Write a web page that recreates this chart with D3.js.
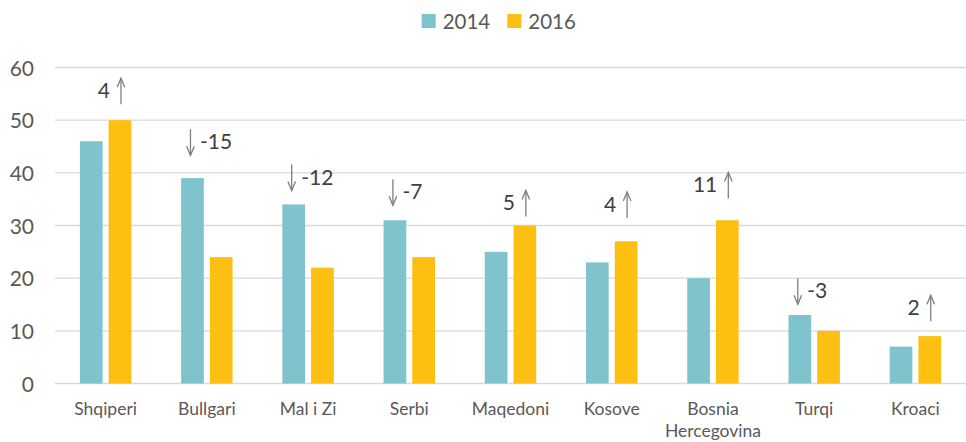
<!DOCTYPE html>
<html><head><meta charset="utf-8">
<script src="https://cdn.jsdelivr.net/npm/d3@7"></script>
<style>body{margin:0;background:#fff}svg{display:block;font-family:Lato,"Open Sans",sans-serif}</style>
</head><body><svg id="c" width="966" height="442"></svg>
<script>
const categories = ["Shqiperi","Bullgari","Mal i Zi","Serbi","Maqedoni","Kosove","Bosnia\nHercegovina","Turqi","Kroaci"];
const seriesNames = ["2014","2016"];
const values2014 = [46,39,34,31,25,23,20,13,7];
const values2016 = [50,24,22,24,30,27,31,10,9];
const changeLabels = [4,-15,-12,-7,5,4,11,-3,2];
const annotationLevel = [55.5,45.8,39.1,36.3,34.2,33.9,37.6,17.5,14.3];
const yTicks = [0,10,20,30,40,50,60];
const colors = ["#7fc4cd","#fcbf12"];

(function(){
const svg = d3.select("#c");
const pLeft = 55, pRight = 966, pTop = 67.5, pBottom = 383.5;
const y = d3.scaleLinear().domain([0,60]).range([pBottom, pTop]);
const x = d3.scaleBand().domain(categories).range([pLeft,pRight]).paddingInner(0.492).paddingOuter(0.246);
const x1 = d3.scaleBand().domain(seriesNames).range([0,x.bandwidth()]).paddingInner(0.21);

// gridlines
svg.append("g").selectAll("line").data(yTicks).join("line")
  .attr("x1",pLeft).attr("x2",pRight).attr("y1",d=>y(d)).attr("y2",d=>y(d))
  .attr("stroke","#d9d9d9").attr("stroke-width",1.4);

// y axis labels
const yAxis = d3.axisLeft(y).tickValues(yTicks).tickSize(0).tickPadding(0);
const ya = svg.append("g").attr("transform","translate(34,0)").call(yAxis);
ya.select(".domain").remove();
ya.selectAll("text").attr("font-size",21).attr("fill","#595959").attr("font-family","Lato").attr("dy","0.36em");

// bars
const data = categories.map((c,i)=>({c, v:[values2014[i],values2016[i]]}));
const g = svg.append("g").selectAll("g").data(data).join("g")
  .attr("transform",d=>`translate(${x(d.c)},0)`);
g.selectAll("rect").data(d=>d.v.map((v,j)=>({k:seriesNames[j],v,j}))).join("rect")
  .attr("x",d=>x1(d.k)).attr("width",x1.bandwidth())
  .attr("y",d=>y(d.v)).attr("height",d=>y(0)-y(d.v))
  .attr("fill",d=>colors[d.j]);

// category labels
const xl = svg.append("g");
categories.forEach(c=>{
  const lines = c.split("\n");
  const cx = x(c)+x.bandwidth()/2;
  const t = xl.append("text").attr("text-anchor","middle").attr("font-size",17.5).attr("fill","#595959")
    .attr("x",cx).attr("y",415);
  lines.forEach((l,i)=>t.append("tspan").attr("x",cx).attr("dy",i?22:0).text(l));
});

// annotations
const ann = svg.append("g");
categories.forEach((c,i)=>{
  const d = changeLabels[i];
  const mid = y(annotationLevel[i]);
  const up = d>0;
  const ax = up ? x(c)+x1("2016")+x1.bandwidth()/2+1 : x(c)+x1("2014")+x1.bandwidth()/2-2;
  const y0 = mid-13, y1 = mid+13;
  const tip = up ? y0 : y1;
  const s = up ? 1 : -1;
  ann.append("line").attr("x1",ax).attr("x2",ax).attr("y1",y0).attr("y2",y1)
    .attr("stroke","#7f7f7f").attr("stroke-width",1.3);
  ann.append("path").attr("d",`M${ax-3.8},${tip+9*s}L${ax},${tip}L${ax+3.8},${tip+9*s}`)
    .attr("fill","none").attr("stroke","#7f7f7f").attr("stroke-width",1.3);
  ann.append("text").attr("font-size",21).attr("fill","#404040")
    .attr("x", up ? ax-11 : ax+9.5).attr("text-anchor", up?"end":"start")
    .attr("y", mid+7).text(d);
});

// legend
const lg = svg.append("g");
seriesNames.forEach((n,i)=>{
  const lx = 421.7 + i*85.6;
  lg.append("rect").attr("x",lx).attr("y",14).attr("width",14).attr("height",14).attr("fill",colors[i]);
  lg.append("text").attr("x",lx+21).attr("y",28.5).attr("font-size",20.5).attr("fill","#595959").text(n);
});
})();
</script></body></html>
